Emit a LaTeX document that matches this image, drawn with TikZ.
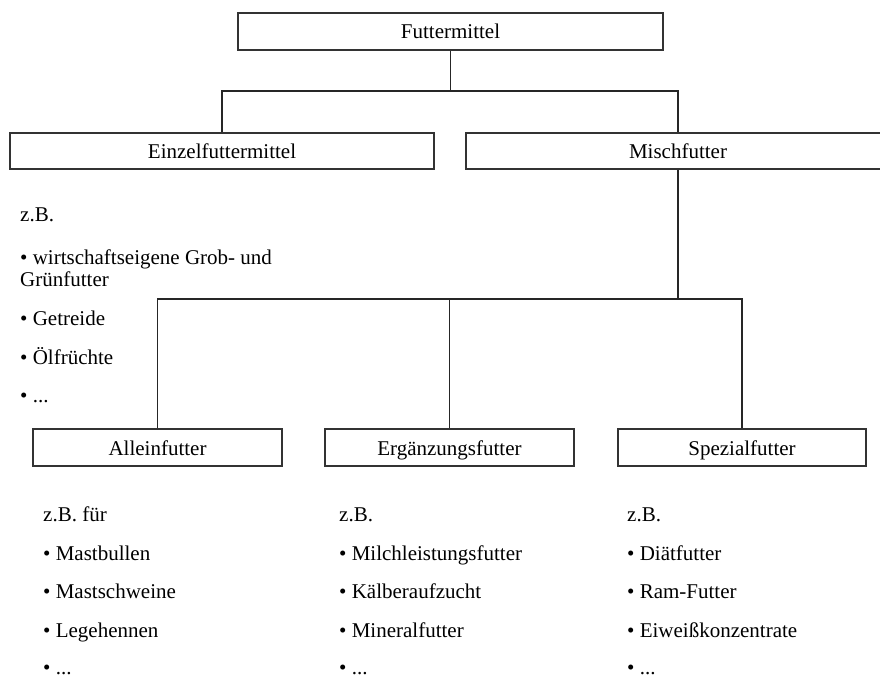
\documentclass[tikz,border=0pt]{standalone}
\usepackage{fontspec}
\setmainfont{Liberation Serif}
\begin{document}
\begin{tikzpicture}[x=1pt,y=-1pt,
  box/.style={draw=black!80,line width=1.1pt,rectangle,inner sep=0pt,
    text height=17pt,text depth=2pt,
    font=\fontsize{21}{22}\selectfont},
  txt/.style={anchor=base west,inner sep=0pt,text depth=0pt,font=\fontsize{21}{22}\selectfont},
  conn/.style={draw=black!85,line width=1.1pt}]
\useasboundingbox (0,0) rectangle (880,677);
\clip (0,0) rectangle (880,677);
\fill[white] (0,0) rectangle (880,677);
% boxes
\node[box,minimum width=425pt,minimum height=37pt] (top) at (450.5,31.5) {Futtermittel};
\node[box,minimum width=424pt,minimum height=36pt] (einzel) at (222,151) {Einzelfuttermittel};
\node[box,minimum width=424pt,minimum height=36pt] (misch) at (678,151) {Mischfutter};
\node[box,minimum width=249pt,minimum height=37pt] (allein) at (157.5,447.5) {Alleinfutter};
\node[box,minimum width=249pt,minimum height=37pt] (ergaenz) at (449.5,447.5) {Ergänzungsfutter};
\node[box,minimum width=248pt,minimum height=37pt] (spezial) at (742,447.5) {Spezialfutter};
% junctions
\coordinate (j1) at (450.5,91);
\coordinate (j2) at (678,299);
% connectors
\draw[conn] (top.south) -- (j1);
\draw[conn] (einzel.north) |- (j1) -| (misch.north);
\draw[conn,line width=1.6pt] (misch.south) -- (j2);
\draw[conn] (allein.north) |- (j2) -| (spezial.north);
\draw[conn] (ergaenz.north) -- (ergaenz.north |- j2);
% left list
\node[txt] (e0) at (20,221) {z.B.};
\node[txt] (e1) at (20,264) {• wirtschaftseigene Grob- und};
\node[txt] (e1b) at (20,286) {Grünfutter};
\node[txt] (e2) at (20,325) {• Getreide};
\node[txt] (e3) at (20,364) {• Ölfrüchte};
\node[txt] (e4) at (20,402) {• ...};
% bottom lists
\node[txt] (a0) at (43,521) {z.B. für};
\node[txt] (a1) at (43,560) {• Mastbullen};
\node[txt] (a2) at (43,598) {• Mastschweine};
\node[txt] (a3) at (43,637) {• Legehennen};
\node[txt] (a4) at (43,674) {• ...};
\node[txt] (b0) at (339,521) {z.B.};
\node[txt] (b1) at (339,560) {• Milchleistungsfutter};
\node[txt] (b2) at (339,598) {• Kälberaufzucht};
\node[txt] (b3) at (339,637) {• Mineralfutter};
\node[txt] (b4) at (339,674) {• ...};
\node[txt] (c0) at (627,521) {z.B.};
\node[txt] (c1) at (627,560) {• Diätfutter};
\node[txt] (c2) at (627,598) {• Ram-Futter};
\node[txt] (c3) at (627,637) {• Eiweißkonzentrate};
\node[txt] (c4) at (627,674) {• ...};
\end{tikzpicture}
\end{document}
